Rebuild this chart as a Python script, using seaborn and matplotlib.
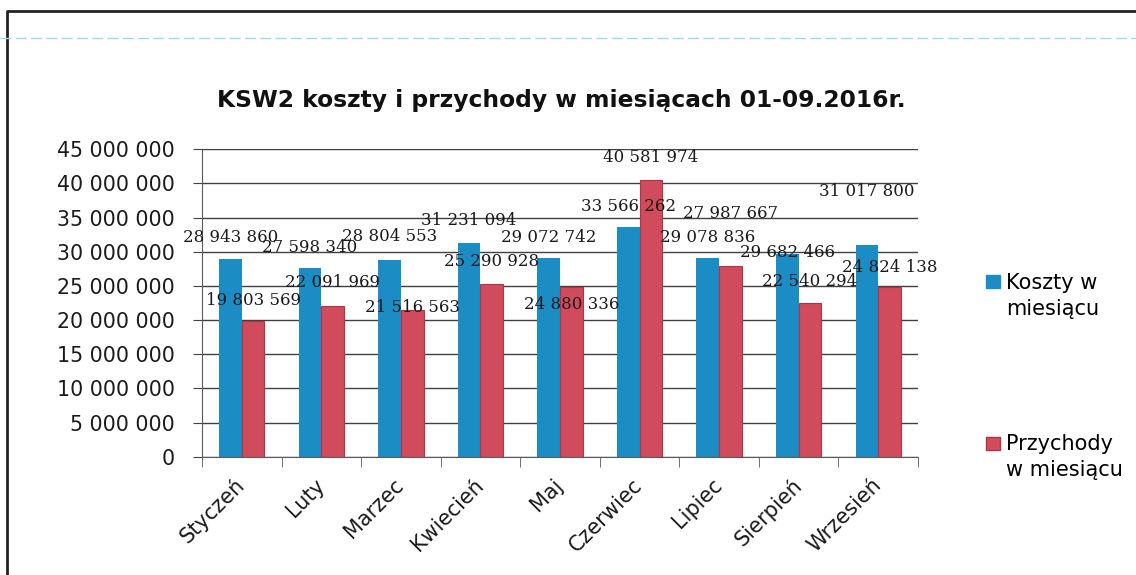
import numpy as np
import pandas as pd
import matplotlib
matplotlib.use("Agg")
import matplotlib.pyplot as plt
import matplotlib.ticker as mticker
from matplotlib.patches import Patch, Rectangle
from matplotlib.legend_handler import HandlerPatch
from matplotlib.lines import Line2D
import seaborn as sns

# data
months = ["Styczeń", "Luty", "Marzec", "Kwiecień", "Maj",
          "Czerwiec", "Lipiec", "Sierpień", "Wrzesień"]
koszty = [28943860, 27598340, 28804553, 31231094, 29072742,
          33566262, 29078836, 29682466, 31017800]
przychody = [19803569, 22091969, 21516563, 25290928, 24880336,
             40581974, 27987667, 22540294, 24824138]
series = ["Koszty w\nmiesiącu", "Przychody\nw miesiącu"]

# label offsets above bar tops (pixels), as placed in the original
off_koszty = [22, 21, 23, 23, 21, 21, 21, 1, 53]
off_przych = [21, 23, 2, 22, -18, 22, 52, 21, 20]

blue = "#1b8cc4"
red = "#d04b5c"

df = pd.DataFrame({
    "Miesiac": months * 2,
    "Wartosc": koszty + przychody,
    "Seria": [series[0]] * len(months) + [series[1]] * len(months),
})

plt.rcParams["font.family"] = ["DejaVu Sans"]

fig = plt.figure(figsize=(11.36, 5.75), dpi=100)
ax = fig.add_axes([0.1778, 0.2057, 0.6303, 0.5346])

sns.barplot(data=df, x="Miesiac", y="Wartosc", hue="Seria", order=months,
            hue_order=series, palette=[blue, red], width=0.57, gap=0,
            saturation=1, legend=False, ax=ax)

for bar in ax.containers[1]:
    bar.set_edgecolor("#b03446")
    bar.set_linewidth(0.8)

# data labels
for cont, offs in zip(ax.containers, [off_koszty, off_przych]):
    for bar, off in zip(cont, offs):
        h = bar.get_height()
        ax.annotate(f"{h:,.0f}".replace(",", " "),
                    (bar.get_x() + bar.get_width() / 2, h),
                    xytext=(0, off * 0.72), textcoords="offset points",
                    ha="center", va="center", fontsize=12,
                    family="DejaVu Serif", color="#1a1a1a")

ax.set_ylim(0, 45000000)
ax.set_yticks(np.arange(0, 45000001, 5000000))
ax.yaxis.set_major_formatter(mticker.FuncFormatter(lambda v, p: f"{v:,.0f}".replace(",", " ")))
ax.set_xlim(-0.5, len(months) - 0.5)
ax.set_xticks(np.arange(-0.5, len(months), 1), minor=True)
ax.set_xlabel("")
ax.set_ylabel("")

ax.grid(axis="y", color="#404040", linewidth=1)
ax.set_axisbelow(True)
for s in ["top", "right"]:
    ax.spines[s].set_visible(False)
for s in ["left", "bottom"]:
    ax.spines[s].set_color("#5a5a5a")

ax.tick_params(axis="y", length=6.5, color="#404040", pad=13, labelsize=14.8, labelcolor="#1a1a1a")
ax.tick_params(axis="x", which="major", length=0, pad=18, labelsize=15, labelcolor="#1a1a1a")
ax.tick_params(axis="x", which="minor", length=7.2, color="#5a5a5a")
plt.setp(ax.get_xticklabels(), rotation=45, ha="right", va="center", rotation_mode="anchor")

fig.text(0.494, 1 - 100 / 575, "KSW2 koszty i przychody w miesiącach 01-09.2016r.",
         ha="center", va="center", fontsize=16.8, weight="bold", color="#111111")


# legend: square sits next to the first line of each label
def square(legend, orig_handle, xdescent, ydescent, width, height, fontsize):
    return Rectangle((-xdescent, -ydescent + 0.7 * fontsize), width, height)


handles = [Patch(facecolor=blue, edgecolor=blue), Patch(facecolor=red, edgecolor="#b03446")]
leg = fig.legend(handles, series, loc="upper left", bbox_to_anchor=(986 / 1136, 1 - 273 / 575),
                 frameon=False, fontsize=15, handlelength=0.67, handleheight=0.58,
                 handletextpad=0.3, labelspacing=5.55, borderpad=0, borderaxespad=0,
                 handler_map={Patch: HandlerPatch(patch_func=square)})
for t in leg.get_texts():
    t.set_linespacing(1.35)

# chart frame and scan line
fig.add_artist(Line2D([7 / 1136, 7 / 1136, 1], [0, 1 - 11 / 575, 1 - 11 / 575],
                      transform=fig.transFigure, color="#222222", linewidth=2))
fig.add_artist(Line2D([0, 1], [1 - 38 / 575, 1 - 38 / 575], transform=fig.transFigure,
                      color="#9fdbe6", linewidth=1, linestyle=(0, (8, 3))))

fig.savefig("out.png", dpi=100)
